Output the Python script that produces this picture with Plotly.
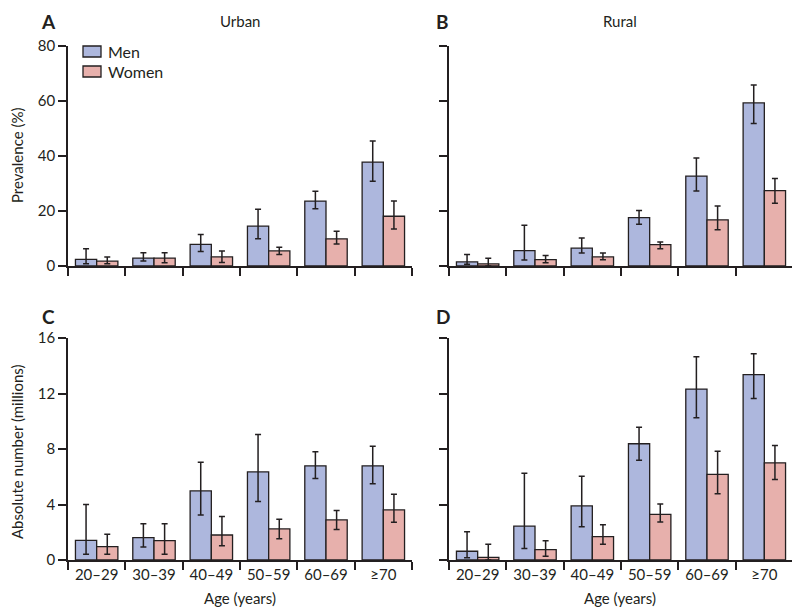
import plotly.graph_objects as go

ages = ["20–29", "30–39", "40–49", "50–59", "60–69", "≥70"]

# A: urban prevalence (%)
urban_prev_men = [2.4, 2.9, 7.9, 14.5, 23.6, 37.8]
urban_prev_men_hi = [6.3, 4.8, 11.5, 20.6, 27.2, 45.5]
urban_prev_men_lo = [0.8, 1.8, 5.3, 9.9, 20.8, 30.8]
urban_prev_women = [1.8, 2.9, 3.3, 5.5, 9.9, 18.1]
urban_prev_women_hi = [3.3, 4.8, 5.5, 6.8, 12.6, 23.6]
urban_prev_women_lo = [0.8, 1.2, 1.3, 4.2, 8.0, 13.5]

# B: rural prevalence (%)
rural_prev_men = [1.5, 5.6, 6.5, 17.6, 32.7, 59.3]
rural_prev_men_hi = [4.2, 14.8, 10.2, 20.2, 39.3, 65.8]
rural_prev_men_lo = [0.6, 2.2, 4.7, 15.2, 27.3, 51.8]
rural_prev_women = [0.8, 2.3, 3.3, 7.8, 16.8, 27.4]
rural_prev_women_hi = [2.8, 3.8, 4.7, 8.7, 21.8, 31.8]
rural_prev_women_lo = [0.0, 1.2, 2.3, 6.3, 13.2, 22.8]

# C: urban absolute number (millions)
urban_num_men = [1.42, 1.61, 4.98, 6.35, 6.79, 6.79]
urban_num_men_hi = [4.0, 2.62, 7.05, 9.05, 7.8, 8.2]
urban_num_men_lo = [0.41, 0.94, 3.25, 4.21, 5.87, 5.49]
urban_num_women = [0.96, 1.40, 1.80, 2.24, 2.89, 3.61]
urban_num_women_hi = [1.85, 2.62, 3.13, 2.94, 3.56, 4.74]
urban_num_women_lo = [0.41, 0.41, 1.03, 1.54, 2.19, 2.72]

# D: rural absolute number (millions)
rural_num_men = [0.63, 2.44, 3.90, 8.38, 12.32, 13.36]
rural_num_men_hi = [2.03, 6.25, 6.03, 9.56, 14.65, 14.86]
rural_num_men_lo = [0.17, 0.82, 2.40, 7.19, 10.26, 11.64]
rural_num_women = [0.19, 0.75, 1.69, 3.29, 6.17, 7.0]
rural_num_women_hi = [1.14, 1.38, 2.54, 4.04, 7.84, 8.25]
rural_num_women_lo = [0.0, 0.27, 1.14, 2.74, 4.77, 5.81]

MEN_COLOR = "#adb7dd"
WOMEN_COLOR = "#e7b0ac"
INK = "#231f20"
FONT = "Lato"
FS = 15

# the page's body margin pushes the figure 8px right and down,
# so the figure is 8px smaller and every position is shifted back
OFF = 8
W, H = 800 - OFF, 615 - OFF


def px_x(p):
    return (p - OFF) / W


def px_y(p):
    return 1 - (p - OFF) / H


def bar(name, vals, hi, lo, color, xa, ya):
    return go.Bar(
        name=name, x=ages, y=vals, xaxis=xa, yaxis=ya,
        marker=dict(color=color, line=dict(color=INK, width=1.3)),
        error_y=dict(type="data", symmetric=False,
                     array=[h - v for h, v in zip(hi, vals)],
                     arrayminus=[v - l for v, l in zip(vals, lo)],
                     color=INK, thickness=1.5, width=3),
        showlegend=False,
    )


fig = go.Figure()
panels = [
    ("x", "y", urban_prev_men, urban_prev_men_hi, urban_prev_men_lo,
     urban_prev_women, urban_prev_women_hi, urban_prev_women_lo),
    ("x2", "y2", rural_prev_men, rural_prev_men_hi, rural_prev_men_lo,
     rural_prev_women, rural_prev_women_hi, rural_prev_women_lo),
    ("x3", "y3", urban_num_men, urban_num_men_hi, urban_num_men_lo,
     urban_num_women, urban_num_women_hi, urban_num_women_lo),
    ("x4", "y4", rural_num_men, rural_num_men_hi, rural_num_men_lo,
     rural_num_women, rural_num_women_hi, rural_num_women_lo),
]
for xa, ya, m, mh, ml, w, wh, wl in panels:
    fig.add_trace(bar("Men", m, mh, ml, MEN_COLOR, xa, ya))
    fig.add_trace(bar("Women", w, wh, wl, WOMEN_COLOR, xa, ya))

left = [px_x(68), px_x(412)]
right = [px_x(449), px_x(793)]
top = [px_y(266), px_y(46)]
bottom = [px_y(560), px_y(338)]

xcommon = dict(type="category", range=[-0.5, 5.5], showline=True, linecolor=INK,
               linewidth=1.5, ticks="outside", tickson="boundaries", ticklen=8,
               tickwidth=1.5, tickcolor=INK, showgrid=False, zeroline=False,
               automargin=False,
               tickfont=dict(family=FONT, size=FS, color=INK), fixedrange=True)
ycommon = dict(showline=True, linecolor=INK, linewidth=1.5, ticks="outside",
               ticklen=8, tickwidth=1.5, tickcolor=INK, showgrid=False,
               zeroline=False, automargin=False,
               tickfont=dict(family=FONT, size=FS, color=INK))

fig.update_layout(
    width=W, height=H,
    margin=dict(l=0, r=0, t=0, b=0, autoexpand=False),
    paper_bgcolor="white", plot_bgcolor="white",
    barmode="group", bargap=0.26, bargroupgap=0,
    font=dict(family=FONT, size=FS, color=INK),
    showlegend=False,
    xaxis=dict(xcommon, domain=left, anchor="y", showticklabels=False),
    xaxis2=dict(xcommon, domain=right, anchor="y2", showticklabels=False),
    xaxis3=dict(xcommon, domain=left, anchor="y3"),
    xaxis4=dict(xcommon, domain=right, anchor="y4"),
    yaxis=dict(ycommon, domain=top, anchor="x", range=[0, 80], dtick=20),
    yaxis2=dict(ycommon, domain=top, anchor="x2", range=[0, 80], dtick=20,
                showticklabels=False),
    yaxis3=dict(ycommon, domain=bottom, anchor="x3", range=[0, 16], dtick=4),
    yaxis4=dict(ycommon, domain=bottom, anchor="x4", range=[0, 16], dtick=4,
                showticklabels=False),
)

# legend drawn by hand so the swatches match the original's wide boxes
for name, color, y0 in [("Men", MEN_COLOR, 46), ("Women", WOMEN_COLOR, 66)]:
    fig.add_shape(type="rect", xref="paper", yref="paper",
                  x0=px_x(83), x1=px_x(101), y0=px_y(y0), y1=px_y(y0 + 11),
                  fillcolor=color, line=dict(color=INK, width=1.3))
    fig.add_annotation(text=name, x=px_x(106), y=px_y(y0 + 5.5),
                       xref="paper", yref="paper", showarrow=False,
                       xanchor="left", yanchor="middle",
                       font=dict(family=FONT, size=16, color=INK))

# panel letters, anchored at their top so they stay inside the figure
for text, x, y in [("A", 48, 8.5), ("B", 443, 8.5), ("C", 48, 303), ("D", 443, 303)]:
    fig.add_annotation(
        text=f"<b>{text}</b>", x=px_x(x), y=px_y(y),
        xref="paper", yref="paper", showarrow=False,
        font=dict(family=FONT, size=19, color=INK),
        xanchor="center", yanchor="top")

labels = [
    ("Urban", 240, 21), ("Rural", 620, 21),
    ("Age (years)", 240, 598), ("Age (years)", 620, 598),
]
for text, x, y in labels:
    fig.add_annotation(
        text=text, x=px_x(x), y=px_y(y),
        xref="paper", yref="paper", showarrow=False,
        font=dict(family=FONT, size=FS, color=INK),
        xanchor="center", yanchor="middle")

for text, y in [("Prevalence (%)", 156), ("Absolute number (millions)", 452)]:
    fig.add_annotation(
        text=text, x=px_x(17), y=px_y(y), xref="paper", yref="paper",
        showarrow=False, textangle=-90,
        font=dict(family=FONT, size=FS, color=INK),
        xanchor="center", yanchor="middle")

fig.write_html("out.html")
